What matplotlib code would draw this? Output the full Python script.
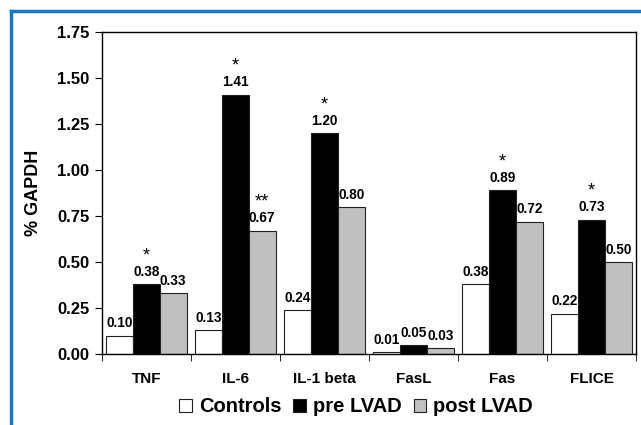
import matplotlib
matplotlib.use("Agg")
import matplotlib.pyplot as plt
from matplotlib.patches import Patch
from matplotlib.lines import Line2D
import numpy as np

plt.rcParams['font.family'] = ['Liberation Sans', 'DejaVu Sans']

categories = ["TNF", "IL-6", "IL-1 beta", "FasL", "Fas", "FLICE"]
controls = [0.10, 0.13, 0.24, 0.01, 0.38, 0.22]
pre_lvad = [0.38, 1.41, 1.20, 0.05, 0.89, 0.73]
post_lvad = [0.33, 0.67, 0.80, 0.03, 0.72, 0.50]
pre_marks = ["*", "*", "*", "", "*", "*"]
post_marks = ["", "**", "", "", "", ""]
series_names = ["Controls", "pre LVAD", "post LVAD"]
yticks = [0.00, 0.25, 0.50, 0.75, 1.00, 1.25, 1.50, 1.75]

fig = plt.figure(figsize=(6.41, 4.25), dpi=100)
ax = fig.add_axes([102/641, 1-354/425, (636-102)/641, (354-32)/425])

x = np.arange(len(categories))
w = 0.30
colors = ["white", "black", "#c0c0c0"]
data = [controls, pre_lvad, post_lvad]
for i, (vals, c) in enumerate(zip(data, colors)):
    pos = x + (i - 1) * w
    ax.bar(pos, vals, w, color=c, edgecolor="#222222", linewidth=0.8, zorder=2)
    for p, v in zip(pos, vals):
        ax.text(p, v + 0.045, f"{v:.2f}", ha="center", va="baseline",
                fontsize=9.8, fontweight="bold")

for k in range(len(categories)):
    if pre_marks[k]:
        ax.text(x[k], pre_lvad[k] + 0.155, pre_marks[k], ha="center", va="center", fontsize=13)
    if post_marks[k]:
        ax.text(x[k] + w, post_lvad[k] + 0.155, post_marks[k], ha="center", va="center", fontsize=13)

ax.set_xlim(-0.5, len(categories) - 0.5)
ax.set_ylim(0, 1.75)
ax.set_yticks(yticks)
ax.set_yticklabels([f"{t:.2f}" for t in yticks], fontsize=12, fontweight="bold")
ax.set_xticks(x)
ax.set_xticklabels(categories, fontsize=11, fontweight="bold")
ax.tick_params(axis="x", which="major", length=0, pad=13)
ax.set_xticks(np.arange(len(categories) + 1) - 0.5, minor=True)
ax.tick_params(axis="x", which="minor", length=5, direction="out")
ax.tick_params(axis="y", length=5, direction="out", pad=4)
ax.set_ylabel("% GAPDH", fontsize=13, fontweight="bold", labelpad=11)
for s in ax.spines.values():
    s.set_linewidth(1.0)

handles = [Patch(facecolor=c, edgecolor="#222222", linewidth=0.8) for c in colors]
fig.legend(handles, series_names, loc="center", bbox_to_anchor=(356/641, 1-407/425),
           ncol=3, frameon=False, prop={"weight": "bold", "size": 14.5},
           handlelength=0.62, handleheight=0.62, handletextpad=0.35, columnspacing=0.6,
           borderpad=0, borderaxespad=0)

blue = "#1a7ac8"
fig.add_artist(Line2D([11/641, 11/641], [0, 1-11/425], color=blue, linewidth=2.5,
                      transform=fig.transFigure))
fig.add_artist(Line2D([11/641, 1], [1-11/425, 1-11/425], color=blue, linewidth=2.5,
                      transform=fig.transFigure))

fig.savefig("out.png", dpi=100)
